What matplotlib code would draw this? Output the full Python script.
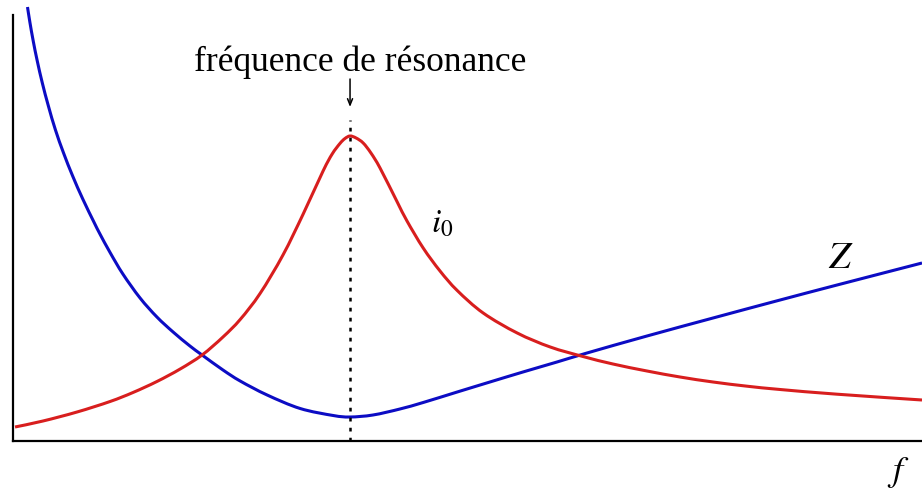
import matplotlib
matplotlib.use('Agg')
from matplotlib import pyplot as plt
from matplotlib.path import Path
from matplotlib.patches import PathPatch

plt.rcParams['mathtext.fontset'] = 'stix'
plt.rcParams['font.family'] = ['Liberation Serif', 'DejaVu Serif']

# frequency in units of the resonance frequency f0
f_z = [0.043, 0.050, 0.060, 0.072, 0.087, 0.105, 0.126, 0.150, 0.177, 0.207,
       0.240, 0.258, 0.288, 0.326, 0.377, 0.427, 0.475, 0.525, 0.561, 0.623,
       0.674, 0.754, 0.852, 0.950, 1.000, 1.068, 1.148, 1.217, 1.318, 1.415,
       1.513, 1.614, 1.703, 1.881, 2.077, 2.276, 2.445, 2.697]
# impedance Z (arbitrary units)
z = [43.4, 41.9, 40.0, 38.0, 35.8, 33.5, 31.1, 28.8, 26.5, 24.2,
     21.9, 20.7, 18.85, 16.7, 14.3, 12.4, 10.9, 9.5, 8.6, 7.1,
     6.0, 4.6, 3.25, 2.55, 2.4, 2.6, 3.2, 3.85, 4.9, 5.9,
     6.9, 7.9, 8.8, 10.5, 12.3, 14.1, 15.6, 17.8]

f_i = [0.006, 0.089, 0.190, 0.288, 0.356, 0.427, 0.496, 0.561, 0.623, 0.674,
       0.733, 0.801, 0.861, 0.920, 0.947, 0.970, 0.985, 1.000, 1.018, 1.039,
       1.062, 1.089, 1.140, 1.169, 1.217, 1.267, 1.318, 1.395, 1.496, 1.594,
       1.691, 1.780, 1.881, 1.979, 2.077, 2.178, 2.276, 2.445, 2.697]
# current amplitude i0 (arbitrary units)
i0 = [1.4, 2.0, 2.9, 3.95, 4.85, 5.95, 7.2, 8.6, 10.4, 12.15,
      14.75, 18.6, 22.7, 27.0, 28.7, 29.75, 30.25, 30.5, 30.3, 29.8,
      28.8, 27.3, 23.9, 22.0, 19.3, 17.0, 15.05, 12.8, 10.8, 9.4,
      8.45, 7.7, 7.0, 6.4, 5.9, 5.48, 5.15, 4.68, 4.1]

f0 = 1.0


def smooth_path(xs, ys):
    # Catmull-Rom through the points, written as cubic Bezier segments
    pts = list(zip(xs, ys))
    pts = [pts[0]] + pts + [pts[-1]]
    verts = [pts[1]]
    codes = [Path.MOVETO]
    for k in range(1, len(pts) - 2):
        p0, p1, p2, p3 = pts[k - 1], pts[k], pts[k + 1], pts[k + 2]
        c1 = (p1[0] + (p2[0] - p0[0]) / 6, p1[1] + (p2[1] - p0[1]) / 6)
        c2 = (p2[0] - (p3[0] - p1[0]) / 6, p2[1] - (p3[1] - p1[1]) / 6)
        verts += [c1, c2, p2]
        codes += [Path.CURVE4] * 3
    return Path(verts, codes)


fig = plt.figure(figsize=(9.22, 4.92), dpi=100)
ax = fig.add_axes([13 / 922, 51 / 492, 909 / 922, 441 / 492])
ax.set_xlim(0, 2.697)
ax.set_ylim(0, 44.1)

ax.add_patch(PathPatch(smooth_path(f_z, z), fill=False, edgecolor='#0c0cc4',
                       lw=2.2, capstyle='butt'))
ax.add_patch(PathPatch(smooth_path(f_i, i0), fill=False, edgecolor='#d81e1e',
                       lw=2.2, capstyle='butt'))

# resonance marker
ax.plot([f0, f0], [0, 32.1], color='black', lw=1.8, ls=(0, (1.5, 2.5)))
ax.annotate('', xy=(f0, 33.4), xytext=(f0, 36.2),
            arrowprops=dict(arrowstyle='->,head_length=0.45,head_width=0.18',
                            color='black', lw=1.1, shrinkA=0, shrinkB=0))
ax.text(1.03, 37.9, 'fréquence de résonance', fontsize=25.5,
        ha='center', va='center')

ax.text(1.273, 21.7, '$i_0$', fontsize=24, ha='center', va='center')
ax.text(2.457, 18.2, '$Z$', fontsize=28, ha='center', va='center')
ax.text(2.626, -3.2, '$f$', fontsize=26, ha='center', va='center',
        clip_on=False)

for side in ['top', 'right']:
    ax.spines[side].set_visible(False)
ax.spines['left'].set_bounds(0, 42.6)
ax.spines['left'].set_linewidth(1.6)
ax.spines['bottom'].set_linewidth(1.6)
ax.set_xticks([])
ax.set_yticks([])
ax.patch.set_visible(False)

fig.savefig('out.png', dpi=100)
